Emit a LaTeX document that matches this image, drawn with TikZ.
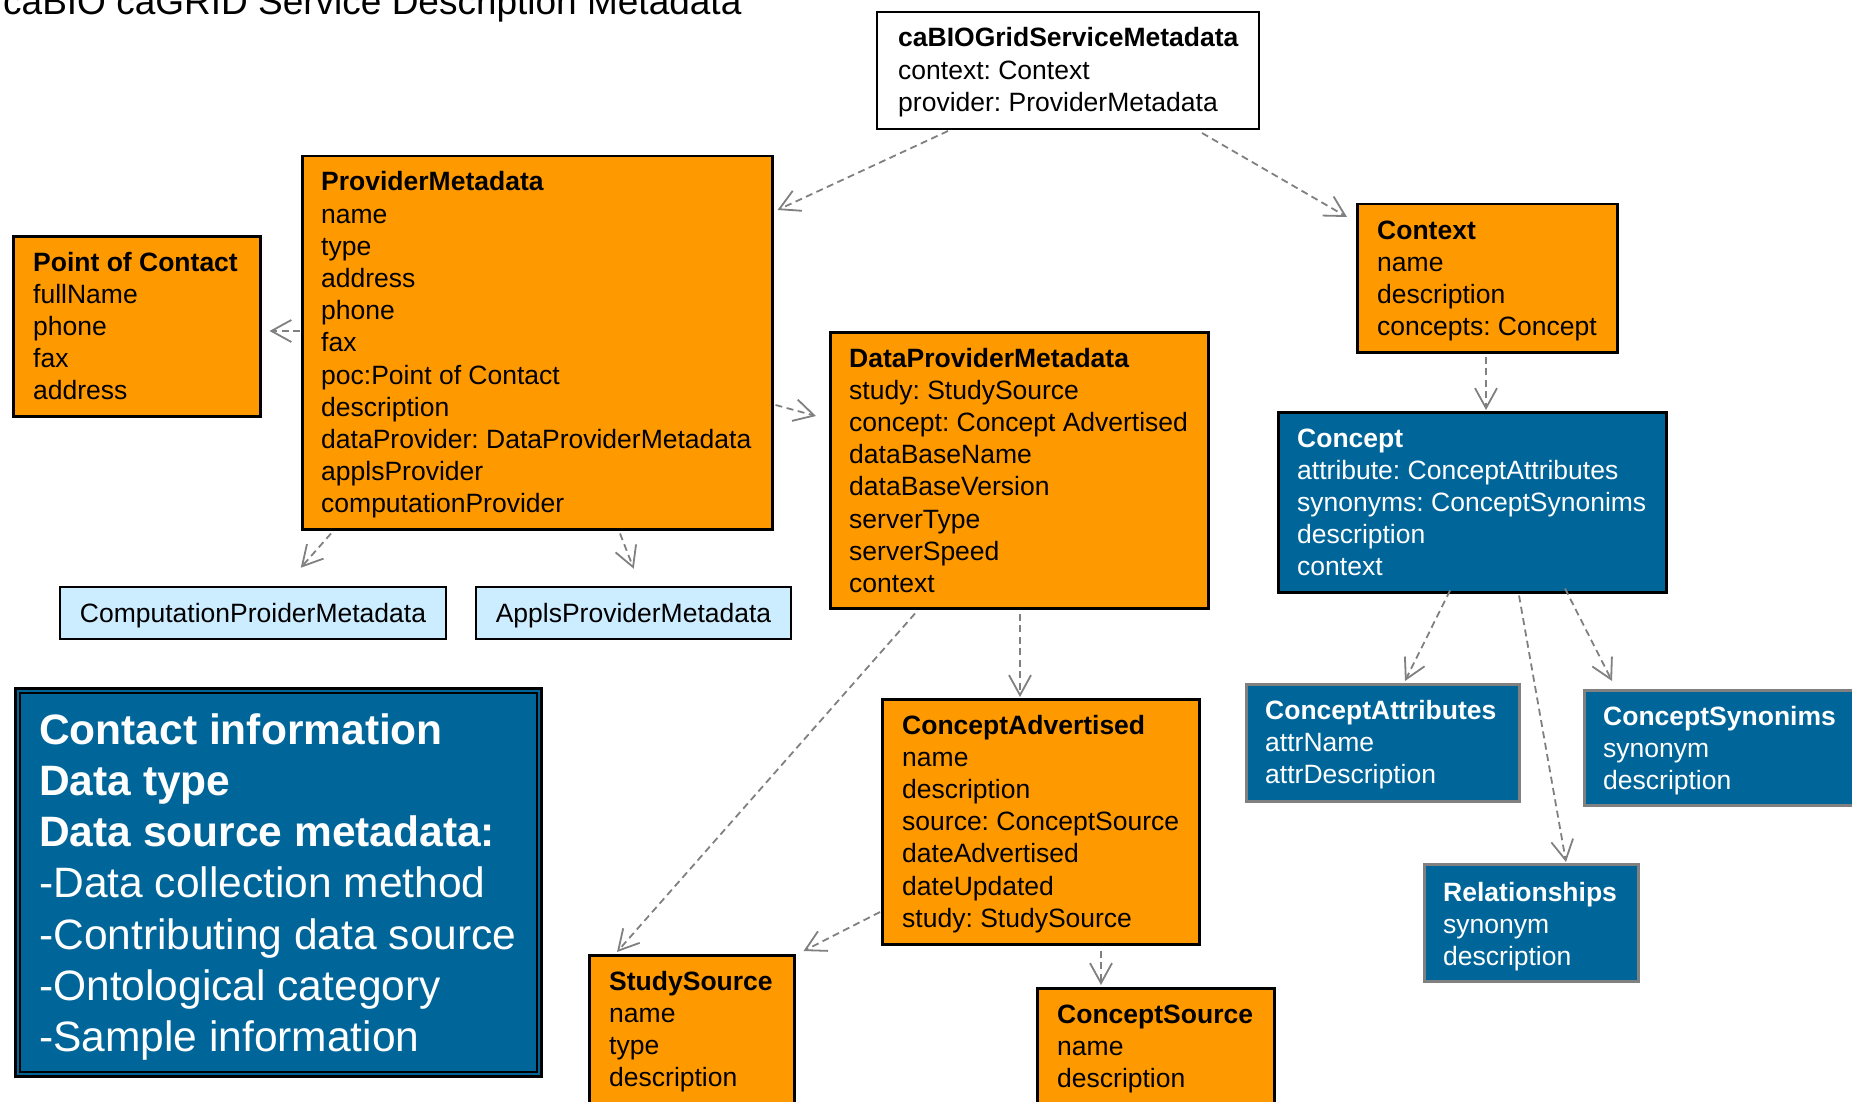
\documentclass[tikz,border=0pt]{standalone}
\usepackage{fontspec}
\setmainfont{Liberation Sans}
\usetikzlibrary{arrows.meta,calc}
\frenchspacing

\definecolor{umlorange}{RGB}{255,153,0}
\definecolor{umlblue}{RGB}{0,102,153}
\definecolor{umllight}{RGB}{204,236,255}
\definecolor{linkgray}{RGB}{128,128,128}

% one class compartment: a left-aligned column whose baseline is its first line
\newcommand{\fields}[1]{\begin{tabular}[t]{@{}l@{}}#1\end{tabular}}

\tikzset{
  boxbase/.style={anchor=north west, inner sep=0pt, line width=2.5pt},
  orangebox/.style={boxbase, draw=black, fill=umlorange},
  whitebox/.style={boxbase, draw=black, fill=white, line width=2pt},
  bluebox/.style={boxbase, draw=black, fill=umlblue},
  greyblue/.style={boxbase, draw=linkgray, fill=umlblue, line width=3pt},
  lightbox/.style={boxbase, anchor=center, draw=black, fill=umllight,
                   text height=24pt, text depth=5pt,
                   font=\fontsize{26.5}{32.2}\selectfont},
  fieldtext/.style={anchor=base west, inner sep=0pt,
                    font=\fontsize{26.5}{32.2}\selectfont},
  fieldwhite/.style={fieldtext, text=white},
  dep/.style={draw=linkgray, line width=1.8pt, dash pattern=on 7pt off 4.5pt,
              -{Straight Barb[length=20pt,width=22pt]}},
}

\begin{document}
\begin{tikzpicture}[x=1pt,y=-1pt]
\useasboundingbox (0,0) rectangle (1852,1102);

% heading
\node[anchor=base west, inner sep=0pt, font=\fontsize{37}{44}\selectfont]
  (heading) at (3,15) {caBIO caGRID Service Description Metadata};

% class boxes
\node[whitebox,  minimum width=382pt, minimum height=117pt] (meta)    at (876,11)  {};
\node[orangebox, minimum width=470pt, minimum height=373pt] (prov)    at (301,155) {};
\node[orangebox, minimum width=247pt, minimum height=180pt] (poc)     at (12,235)  {};
\node[orangebox, minimum width=260pt, minimum height=148pt] (ctx)     at (1356,203) {};
\node[orangebox, minimum width=378pt, minimum height=276pt] (dpm)     at (829,331) {};
\node[bluebox,   minimum width=388pt, minimum height=180pt] (concept) at (1277,411) {};
\node[orangebox, minimum width=317pt, minimum height=245pt] (cadv)    at (881,698) {};
\node[greyblue,  minimum width=273pt, minimum height=117pt] (cattr)   at (1245,683) {};
\node[greyblue,  minimum width=300pt, minimum height=115pt] (csyn)    at (1583,689) {};
\node[greyblue,  minimum width=214pt, minimum height=117pt] (rel)     at (1423,863) {};
\node[orangebox, minimum width=205pt, minimum height=200pt] (study)   at (588,954) {};
\node[orangebox, minimum width=237pt, minimum height=200pt] (csrc)    at (1036,987) {};

\node[lightbox, minimum width=386pt, minimum height=52pt] (comp)  at (253,613) {ComputationProiderMetadata};
\node[lightbox, minimum width=315pt, minimum height=52pt] (appls) at (633.5,613) {ApplsProviderMetadata};

% summary panel with its double frame
\node[boxbase, draw=black, line width=3pt, fill=umlblue,
      minimum width=526pt, minimum height=388pt] (legend) at (14,687) {};
\draw[black, line width=2pt] ($(legend.north west)+(6,6)$) rectangle ($(legend.south east)+(-6,-6)$);
\node[anchor=base west, inner sep=0pt, text=white, font=\fontsize{42.5}{51.3}\selectfont]
  (legend-t) at ($(legend.north west)+(25,57)$)
  {\fields{\textbf{Contact information}\\ \textbf{Data type}\\ \textbf{Data source metadata:}\\
   -Data collection method\\ -Contributing data source\\ -Ontological category\\ -Sample information}};

% class contents
\node[fieldtext] (meta-t) at ($(meta.north west)+(22,36)$)
  {\fields{\textbf{caBIOGridServiceMetadata}\\ context: Context\\ provider: ProviderMetadata}};
\node[fieldtext] (prov-t) at ($(prov.north west)+(20,36)$)
  {\fields{\textbf{ProviderMetadata}\\ name\\ type\\ address\\ phone\\ fax\\ poc:Point of Contact\\
   description\\ dataProvider: DataProviderMetadata\\ applsProvider\\ computationProvider}};
\node[fieldtext] (poc-t) at ($(poc.north west)+(21,36)$)
  {\fields{\textbf{Point of Contact}\\ fullName\\ phone\\ fax\\ address}};
\node[fieldtext] (ctx-t) at ($(ctx.north west)+(21,36)$)
  {\fields{\textbf{Context}\\ name\\ description\\ concepts: Concept}};
\node[fieldtext] (dpm-t) at ($(dpm.north west)+(20,36)$)
  {\fields{\textbf{DataProviderMetadata}\\ study: StudySource\\ concept: Concept Advertised\\
   dataBaseName\\ dataBaseVersion\\ serverType\\ serverSpeed\\ context}};
\node[fieldwhite] (concept-t) at ($(concept.north west)+(20,36)$)
  {\fields{\textbf{Concept}\\ attribute: ConceptAttributes\\ synonyms: ConceptSynonims\\ description\\ context}};
\node[fieldtext] (cadv-t) at ($(cadv.north west)+(21,36)$)
  {\fields{\textbf{ConceptAdvertised}\\ name\\ description\\ source: ConceptSource\\
   dateAdvertised\\ dateUpdated\\ study: StudySource}};
\node[fieldwhite] (cattr-t) at ($(cattr.north west)+(20,36)$)
  {\fields{\textbf{ConceptAttributes}\\ attrName\\ attrDescription}};
\node[fieldwhite] (csyn-t) at ($(csyn.north west)+(20,36)$)
  {\fields{\textbf{ConceptSynonims}\\ synonym\\ description}};
\node[fieldwhite] (rel-t) at ($(rel.north west)+(20,38)$)
  {\fields{\textbf{Relationships}\\ synonym\\ description}};
\node[fieldtext] (study-t) at ($(study.north west)+(21,36)$)
  {\fields{\textbf{StudySource}\\ name\\ type\\ description}};
\node[fieldtext] (csrc-t) at ($(csrc.north west)+(21,36)$)
  {\fields{\textbf{ConceptSource}\\ name\\ description}};

% dependencies
\draw[dep] ($(meta.south west)+(72,1)$)     -- ($(prov.north east)+(4,55)$);
\draw[dep] ($(meta.south west)+(326,3)$)    -- ($(ctx.north west)+(-9,14)$);
\draw[dep] ($(prov.north west)+(-1,176)$)   -- ($(poc.north east)+(8,96)$);
\draw[dep] ($(prov.north east)+(2,250)$)    -- ($(dpm.north west)+(-13,85)$);
\draw[dep] ($(prov.south west)+(30,3)$)     -- ($(comp.north west)+(242,-18)$);
\draw[dep] ($(prov.south west)+(319,3)$)    -- ($(appls.north west)+(159,-17)$);
\draw[dep] ($(ctx.south west)+(130,3)$)     -- ($(concept.north west)+(209,-1)$);
\draw[dep] ($(dpm.south west)+(86,4)$)      -- ($(study.north west)+(29,-2)$);
\draw[dep] ($(dpm.south west)+(191,4)$)     -- ($(cadv.north west)+(139,-1)$);
\draw[dep] ($(cadv.north west)+(-1,214)$)   -- ($(study.north east)+(8,-3)$);
\draw[dep] ($(cadv.south west)+(220,5)$)    -- ($(csrc.north west)+(65,-2)$);
\draw[dep] ($(concept.south west)+(173,-3)$) -- ($(cattr.north west)+(160,-2)$);
\draw[dep] ($(concept.south west)+(242,2)$)  -- ($(rel.north west)+(143,-1)$);
\draw[dep] ($(concept.south west)+(288,-5)$) -- ($(csyn.north west)+(29,-8)$);
\end{tikzpicture}
\end{document}
